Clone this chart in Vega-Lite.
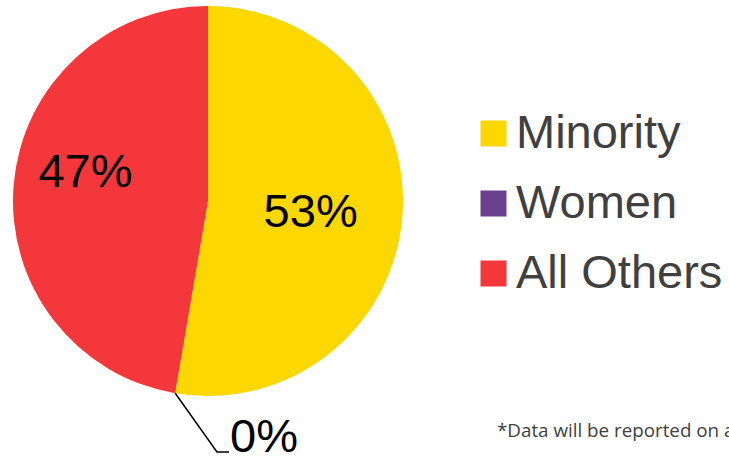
{
  "$schema": "https://vega.github.io/schema/vega-lite/v6.json",
  "width": 416,
  "height": 402,
  "padding": 0,
  "background": "white",
  "config": {"view": {"stroke": null}},
  "title": {
    "text": "*Data will be reported on a",
    "orient": "bottom",
    "anchor": "start",
    "frame": "group",
    "dx": 497,
    "offset": -24,
    "baseline": "alphabetic",
    "font": "Open Sans",
    "fontSize": 18.8,
    "fontWeight": "normal",
    "color": "#404040"
  },
  "data": {
    "values": [
      {"group": "Minority", "share": 0.527, "idx": 1},
      {"group": "Women", "share": 0, "idx": 2},
      {"group": "All Others", "share": 0.473, "idx": 3}
    ]
  },
  "layer": [
    {
      "mark": {"type": "arc", "outerRadius": 195},
      "encoding": {
        "theta": {"field": "share", "type": "quantitative", "stack": true},
        "order": {"field": "idx", "type": "quantitative"},
        "color": {
          "field": "group",
          "type": "nominal",
          "scale": {"domain": ["Minority", "Women", "All Others"], "range": ["#FDD700", "#6A3F90", "#F4373B"]},
          "legend": {
            "title": null,
            "orient": "none",
            "legendX": 470,
            "legendY": 110,
            "symbolType": "square",
            "symbolSize": 676,
            "symbolStrokeWidth": 0,
            "labelFont": "Liberation Sans",
            "labelFontSize": 47,
            "labelColor": "#404040",
            "labelOffset": -1,
            "labelLimit": 400,
            "rowPadding": 22
          }
        }
      }
    },
    {
      "mark": {"type": "text", "radius": 103, "font": "Liberation Sans", "fontSize": 47, "color": "black", "baseline": "middle", "dy": 3},
      "encoding": {
        "theta": {"field": "share", "type": "quantitative", "stack": true},
        "order": {"field": "idx", "type": "quantitative"},
        "text": {"condition": {"test": "datum.group === 'Minority'", "field": "share", "format": ".0%"}, "value": ""}
      }
    },
    {
      "mark": {"type": "text", "radius": 126, "font": "Liberation Sans", "fontSize": 47, "color": "black", "baseline": "middle", "dx": 3, "dy": -17},
      "encoding": {
        "theta": {"field": "share", "type": "quantitative", "stack": true},
        "order": {"field": "idx", "type": "quantitative"},
        "text": {"condition": {"test": "datum.group === 'All Others'", "field": "share", "format": ".0%"}, "value": ""}
      }
    },
    {
      "mark": {"type": "text", "radius": 243, "font": "Liberation Sans", "fontSize": 47, "color": "black", "baseline": "middle", "dx": 97, "dy": -3},
      "encoding": {
        "theta": {"field": "share", "type": "quantitative", "stack": true},
        "order": {"field": "idx", "type": "quantitative"},
        "text": {"condition": {"test": "datum.group === 'Women'", "field": "share", "format": ".0%"}, "value": ""}
      }
    },
    {
      "data": {
        "values": [
          {"ux": -0.168, "uy": -0.986},
          {"ux": 0.046, "uy": -1.287},
          {"ux": 0.108, "uy": -1.287}
        ]
      },
      "mark": {"type": "line", "color": "black", "strokeWidth": 1.5},
      "encoding": {
        "x": {"field": "ux", "type": "quantitative", "scale": {"domain": [-1.0667, 1.0667], "nice": false, "zero": false}, "axis": null},
        "y": {"field": "uy", "type": "quantitative", "scale": {"domain": [-1.0308, 1.0308], "nice": false, "zero": false}, "axis": null}
      }
    }
  ]
}
